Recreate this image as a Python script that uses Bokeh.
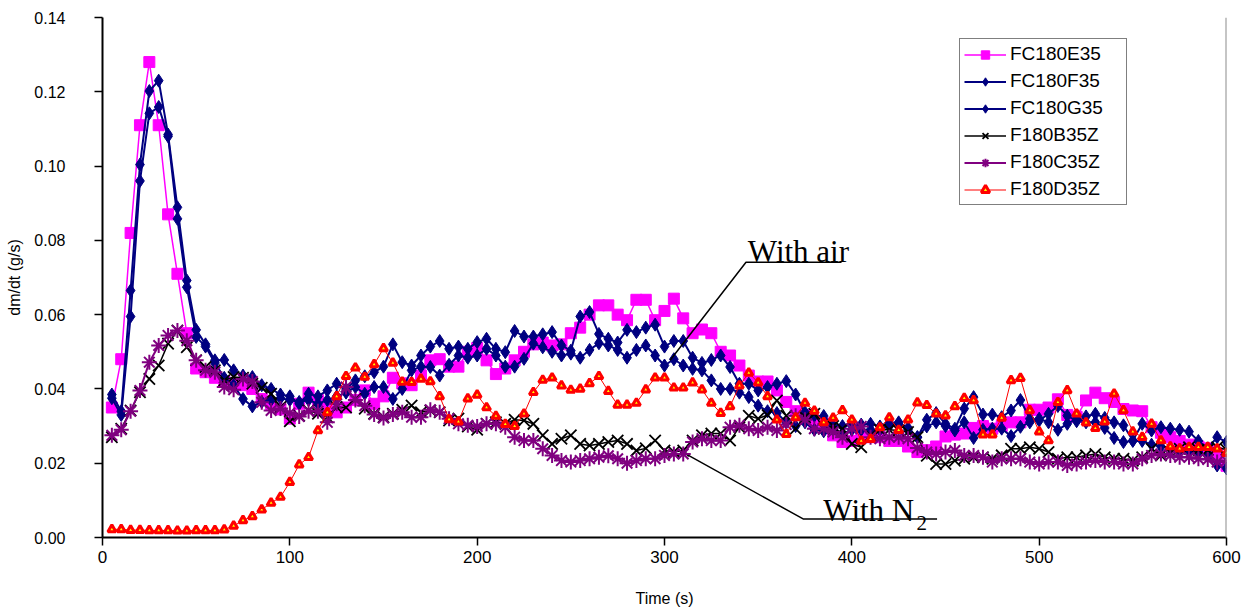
from bokeh.plotting import figure
from bokeh.models import Range1d, FixedTicker, Legend, LegendItem, Span, NumeralTickFormatter
from bokeh.embed import file_html
from bokeh.resources import INLINE
from bokeh.core.properties import value

# ---------------- data ----------------
time_s = list(range(5, 605, 5))

fc180e35 = [
    0.035, 0.048, 0.082, 0.111, 0.128, 0.111, 0.087, 0.071, 0.055, 0.0455,
    0.0445, 0.043, 0.042, 0.0415, 0.041, 0.040, 0.0373, 0.036, 0.0345, 0.032,
    0.036, 0.039, 0.037, 0.035, 0.0337, 0.035, 0.037, 0.0396, 0.036, 0.038,
    0.043, 0.0415, 0.041, 0.0436, 0.0477, 0.048, 0.046, 0.046, 0.050, 0.051,
    0.0477, 0.044, 0.0455, 0.0477, 0.050, 0.052, 0.0525, 0.0517, 0.052, 0.055,
    0.0565, 0.060, 0.0625, 0.0625, 0.060, 0.0585, 0.064, 0.064, 0.0585, 0.061,
    0.0643, 0.059, 0.055, 0.056, 0.055, 0.050, 0.049, 0.0463, 0.0436, 0.042,
    0.042, 0.0396, 0.0365, 0.034, 0.033, 0.031, 0.0307, 0.0275, 0.0257, 0.026,
    0.027, 0.027, 0.027, 0.026, 0.026, 0.0245, 0.023, 0.0235, 0.0245, 0.0272,
    0.0277, 0.028, 0.0295, 0.030, 0.0293, 0.030, 0.031, 0.031, 0.0344, 0.0344,
    0.035, 0.0372, 0.033, 0.0325, 0.0369, 0.039, 0.0375, 0.0365, 0.0346, 0.0342,
    0.034, 0.0297, 0.0282, 0.027, 0.026, 0.025, 0.0245, 0.024, 0.0226, 0.0193,
]

fc180f35 = [
    0.0385, 0.034, 0.0665, 0.1004, 0.1202, 0.123, 0.1085, 0.0889, 0.0692, 0.0559,
    0.052, 0.0477, 0.0478, 0.045, 0.0436, 0.0432, 0.041, 0.040, 0.0385, 0.038,
    0.036, 0.0387, 0.038, 0.0396, 0.0414, 0.040, 0.0423, 0.0434, 0.0445, 0.046,
    0.052, 0.0472, 0.0463, 0.049, 0.0514, 0.0529, 0.0508, 0.0514, 0.0508, 0.0526,
    0.0535, 0.0508, 0.0499, 0.0556, 0.0541, 0.0541, 0.0547, 0.0553, 0.0517, 0.0503,
    0.0595, 0.0607, 0.0548, 0.0535, 0.0525, 0.0559, 0.0553, 0.0565, 0.0573, 0.0514,
    0.0529, 0.0529, 0.0484, 0.047, 0.0478, 0.049, 0.0459, 0.0414, 0.0414, 0.0396,
    0.0405, 0.0414, 0.0421, 0.0385, 0.0337, 0.0328, 0.0327, 0.0302, 0.030, 0.0302,
    0.0304, 0.0306, 0.0299, 0.0308, 0.031, 0.0295, 0.027, 0.0317, 0.0335, 0.0306,
    0.0293, 0.0347, 0.0378, 0.0331, 0.0331, 0.0324, 0.0342, 0.037, 0.032, 0.0315,
    0.0333, 0.0354, 0.0328, 0.0313, 0.0326, 0.0333, 0.0322, 0.031, 0.0302, 0.0261,
    0.0306, 0.0288, 0.0297, 0.0293, 0.029, 0.0285, 0.026, 0.024, 0.027, 0.0257,
]

fc180g35 = [
    0.0375, 0.033, 0.0595, 0.096, 0.1142, 0.1159, 0.108, 0.0858, 0.0674, 0.054,
    0.0514, 0.047, 0.043, 0.041, 0.0373, 0.0353, 0.0365, 0.037, 0.0375, 0.037,
    0.0365, 0.037, 0.036, 0.037, 0.038, 0.039, 0.0405, 0.0387, 0.0405, 0.0405,
    0.0373, 0.040, 0.045, 0.046, 0.0459, 0.0436, 0.0465, 0.049, 0.0484, 0.049,
    0.0508, 0.049, 0.046, 0.046, 0.0481, 0.0522, 0.0512, 0.050, 0.049, 0.0495,
    0.0484, 0.0505, 0.0523, 0.0517, 0.0505, 0.0484, 0.0505, 0.0517, 0.049, 0.0463,
    0.048, 0.0463, 0.0454, 0.045, 0.0423, 0.040, 0.040, 0.039, 0.0378, 0.0355,
    0.034, 0.0335, 0.031, 0.030, 0.031, 0.029, 0.0286, 0.029, 0.0279, 0.029,
    0.029, 0.029, 0.029, 0.030, 0.0305, 0.029, 0.027, 0.0299, 0.031, 0.030,
    0.0288, 0.031, 0.0268, 0.029, 0.0293, 0.0293, 0.0273, 0.0298, 0.031, 0.032,
    0.031, 0.029, 0.0306, 0.032, 0.031, 0.031, 0.0295, 0.0268, 0.0257, 0.026,
    0.026, 0.025, 0.0245, 0.024, 0.0235, 0.0232, 0.023, 0.022, 0.0194, 0.0186,
]

f180b35z = [
    0.027, 0.0293, 0.0342, 0.0391, 0.0427, 0.0463, 0.0522, 0.0557, 0.0512, 0.0477,
    0.0459, 0.045, 0.0423, 0.0432, 0.043, 0.0414, 0.0403, 0.0387, 0.0351, 0.0313,
    0.0328, 0.0342, 0.0333, 0.0324, 0.0351, 0.035, 0.0373, 0.0347, 0.0333, 0.0324,
    0.0333, 0.0344, 0.0355, 0.0337, 0.0342, 0.0337, 0.0315, 0.032, 0.0299, 0.029,
    0.0306, 0.031, 0.0306, 0.0317, 0.0315, 0.0306, 0.0275, 0.0252, 0.0266, 0.0275,
    0.0252, 0.0248, 0.0252, 0.0257, 0.0261, 0.0252, 0.0234, 0.024, 0.0261, 0.0234,
    0.023, 0.0234, 0.0261, 0.0275, 0.028, 0.028, 0.0261, 0.0297, 0.0328, 0.032,
    0.033, 0.0369, 0.0328, 0.0293, 0.0324, 0.0333, 0.0293, 0.030, 0.0293, 0.0252,
    0.0243, 0.0275, 0.029, 0.029, 0.0288, 0.0284, 0.027, 0.022, 0.0198, 0.0198,
    0.0207, 0.0212, 0.0216, 0.0216, 0.0212, 0.0221, 0.0239, 0.0239, 0.0243, 0.0239,
    0.023, 0.0212, 0.0216, 0.0216, 0.0221, 0.0225, 0.0216, 0.0212, 0.0212, 0.0207,
    0.0216, 0.0239, 0.0221, 0.023, 0.0239, 0.0243, 0.0236, 0.0236, 0.0243, 0.0236,
]

f180c35z = [
    0.0275, 0.029, 0.034, 0.0396, 0.0472, 0.0517, 0.0544, 0.0557, 0.053, 0.0477,
    0.045, 0.0445, 0.0405, 0.0398, 0.0427, 0.042, 0.0364, 0.0342, 0.0347, 0.0335,
    0.0326, 0.034, 0.034, 0.031, 0.036, 0.0405, 0.037, 0.0355, 0.0331, 0.0322,
    0.0331, 0.0337, 0.0324, 0.0324, 0.0344, 0.0337, 0.032, 0.0306, 0.0302, 0.0299,
    0.0306, 0.0306, 0.0297, 0.027, 0.0261, 0.0261, 0.0239, 0.0221, 0.0207, 0.0203,
    0.0207, 0.0212, 0.0216, 0.022, 0.0212, 0.020, 0.0207, 0.0212, 0.0212, 0.0221,
    0.0225, 0.0225, 0.0257, 0.0266, 0.0261, 0.0261, 0.0297, 0.0302, 0.0293, 0.0288,
    0.0297, 0.0288, 0.0304, 0.0328, 0.0317, 0.0293, 0.0293, 0.0284, 0.027, 0.0293,
    0.0299, 0.027, 0.0266, 0.027, 0.027, 0.0266, 0.0241, 0.023, 0.0225, 0.023,
    0.0234, 0.0221, 0.0221, 0.0216, 0.0203, 0.0212, 0.0212, 0.0212, 0.0203, 0.0198,
    0.0203, 0.0203, 0.0194, 0.0198, 0.0203, 0.0207, 0.0203, 0.0203, 0.0198, 0.0198,
    0.0212, 0.0221, 0.0225, 0.0221, 0.0216, 0.0216, 0.0212, 0.021, 0.0203, 0.0207,
]

f180d35z = [
    0.0022, 0.0022, 0.0020, 0.0020, 0.0019, 0.0019, 0.0019, 0.0018, 0.0018, 0.0019,
    0.0019, 0.0019, 0.0021, 0.0031, 0.0046, 0.0057, 0.0075, 0.0093, 0.0109, 0.0149,
    0.0196, 0.0216, 0.0288, 0.0337, 0.038, 0.0434, 0.0457, 0.0432, 0.0466, 0.0509,
    0.047, 0.0419, 0.0418, 0.0427, 0.042, 0.038, 0.0318, 0.0312, 0.0374, 0.0384,
    0.035, 0.0327, 0.0305, 0.030, 0.0333, 0.0391, 0.0424, 0.043, 0.0409, 0.0397,
    0.040, 0.0415, 0.0434, 0.0394, 0.0357, 0.0357, 0.0362, 0.0398, 0.043, 0.043,
    0.0403, 0.0403, 0.0417, 0.0398, 0.0362, 0.0335, 0.0353, 0.0409, 0.0443, 0.0417,
    0.038, 0.0317, 0.0278, 0.0323, 0.0362, 0.0341, 0.031, 0.0322, 0.0342, 0.0317,
    0.026, 0.0265, 0.0296, 0.0323, 0.0289, 0.0317, 0.0363, 0.0356, 0.0333, 0.0328,
    0.0353, 0.0375, 0.0369, 0.0277, 0.0277, 0.0322, 0.0423, 0.0429, 0.0342, 0.0285,
    0.0261, 0.0364, 0.0396, 0.0333, 0.0309, 0.0294, 0.0312, 0.0387, 0.0342, 0.0285,
    0.027, 0.0306, 0.0261, 0.0245, 0.0239, 0.0243, 0.0243, 0.0243, 0.0239, 0.0227,
]

series_names = ["FC180E35", "FC180F35", "FC180G35", "F180B35Z", "F180C35Z", "F180D35Z"]
x_ticks = [0, 100, 200, 300, 400, 500, 600]
y_ticks = [0.0, 0.02, 0.04, 0.06, 0.08, 0.10, 0.12, 0.14]

# annotation anchors (data coordinates)
air_text = (344.5, 0.0770)
air_leader_x = [394.5, 343.5, 303.0]
air_leader_y = [0.0741, 0.0741, 0.0477]
n2_text = (384.8, 0.0073)
n2_sub = (434.5, 0.0040)
n2_leader_x = [312.8, 374.0, 445.5]
n2_leader_y = [0.0221, 0.0050, 0.0050]

# ---------------- figure ----------------
p = figure(width=1250, height=610,
           min_border_left=102, min_border_right=24, min_border_top=17, min_border_bottom=73,
           x_range=Range1d(0, 600), y_range=Range1d(0, 0.14),
           output_backend="svg", toolbar_location=None,
           background_fill_color="white", border_fill_color="white")
p.outline_line_color = None
p.xgrid.visible = False
p.ygrid.visible = False

p.xaxis.ticker = FixedTicker(ticks=x_ticks)
p.yaxis.ticker = FixedTicker(ticks=y_ticks)
p.yaxis.formatter = NumeralTickFormatter(format="0.00")
for ax in (p.xaxis[0], p.yaxis[0]):
    ax.axis_line_color = "black"
    ax.axis_line_width = 2
    ax.major_tick_line_color = "black"
    ax.major_tick_line_width = 1.5
    ax.major_tick_out = 8
    ax.major_tick_in = 0
    ax.minor_tick_line_color = None
    ax.major_label_text_font = "Liberation Sans"
    ax.major_label_text_color = "black"
    ax.axis_label_text_font = "Liberation Sans"
    ax.axis_label_text_font_style = "normal"
    ax.axis_label_text_color = "black"

p.xaxis.axis_label = "Time (s)"
p.xaxis.major_label_text_font_size = "17px"
p.xaxis.axis_label_text_font_size = "16px"
p.xaxis.major_label_standoff = 5
p.xaxis.axis_label_standoff = 24

p.yaxis.axis_label = "dm/dt (g/s)"
p.yaxis.major_label_text_font_size = "16px"
p.yaxis.axis_label_text_font_size = "16px"
p.yaxis.major_label_standoff = 29
p.yaxis.axis_label_standoff = 8

p.add_layout(Span(location=600, dimension="height", line_color="#8c8c8c", line_width=2))

items = []

def add_series(y, name, color, marker, size, lw, mlw, fill):
    ln = p.line(time_s, y, line_color=color, line_width=lw)
    sc = p.scatter(time_s, y, marker=marker, size=size, line_color=color,
                   fill_color=fill, line_width=mlw)
    items.append(LegendItem(label=name, renderers=[ln, sc]))

add_series(fc180e35, series_names[0], "#FF00FF", "square", 11, 1.5, 1, "#FF00FF")
add_series(fc180f35, series_names[1], "#000080", "diamond", 13, 2, 1, "#000080")
add_series(fc180g35, series_names[2], "#000080", "diamond", 13, 2, 1, "#000080")
add_series(f180b35z, series_names[3], "#000000", "x", 16, 1.5, 1.8, None)
add_series(f180c35z, series_names[4], "#800080", "asterisk", 15, 2, 2, None)
add_series(f180d35z, series_names[5], "#FF0000", "triangle", 8, 1, 3, "#FFFF00")

# annotations
p.line(air_leader_x, air_leader_y, line_color="black", line_width=1.5)
p.line(n2_leader_x, n2_leader_y, line_color="black", line_width=1.5)
p.text(x=[air_text[0]], y=[air_text[1]], text=["With air"], text_font=value("Liberation Serif"),
       text_font_size="31px", text_baseline="alphabetic", text_align="left", text_color="black")
p.text(x=[n2_text[0]], y=[n2_text[1]], text=["With N"], text_font=value("Liberation Serif"),
       text_font_size="31px", text_baseline="alphabetic", text_align="left", text_color="black")
p.text(x=[n2_sub[0]], y=[n2_sub[1]], text=["2"], text_font=value("Liberation Serif"),
       text_font_size="21px", text_baseline="alphabetic", text_align="left", text_color="black")

legend = Legend(items=items, location=(857, 332),
                border_line_color="black", border_line_width=1,
                background_fill_color="white", background_fill_alpha=1,
                label_text_font="Liberation Sans", label_text_font_size="19px",
                label_text_color="black",
                glyph_width=42, glyph_height=21, label_height=21, label_width=112,
                label_standoff=4, spacing=5, padding=4, margin=0)
p.add_layout(legend, "center")

open("out.html", "w").write(file_html(p, INLINE))
